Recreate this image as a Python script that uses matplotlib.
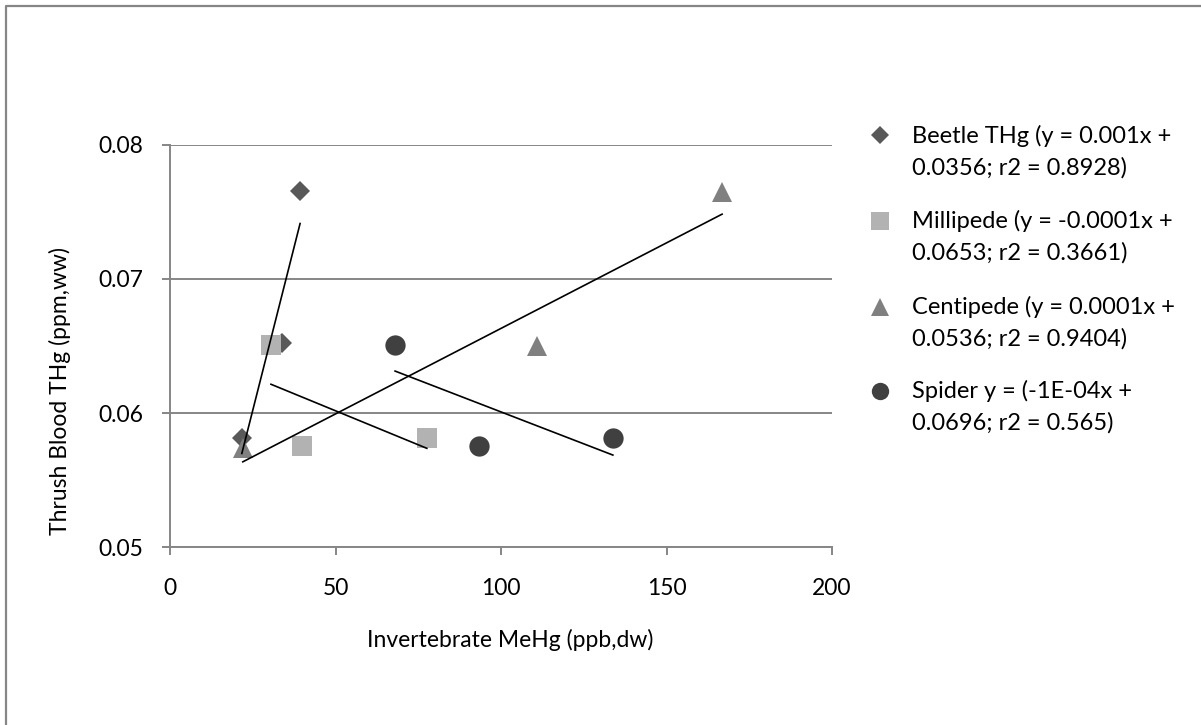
import matplotlib
matplotlib.use("Agg")
import matplotlib.pyplot as plt
from matplotlib.lines import Line2D
from matplotlib.ticker import FormatStrFormatter
import numpy as np

plt.rcParams['font.family'] = ['Lato', 'DejaVu Sans']
plt.rcParams['font.size'] = 16.5

# values
beetle_x = [21.7, 33.8, 39.3]
beetle_y = [0.0581, 0.0652, 0.0766]
millipede_x = [30.5, 39.9, 77.6]
millipede_y = [0.0651, 0.0575, 0.0581]
centipede_x = [22.0, 110.9, 166.8]
centipede_y = [0.0574, 0.0650, 0.0765]
spider_x = [68.0, 93.4, 133.8]
spider_y = [0.0651, 0.0575, 0.0581]

labels = [("Beetle THg (y = 0.001x +", "0.0356; r2 = 0.8928)"),
          ("Millipede (y = -0.0001x +", "0.0653; r2 = 0.3661)"),
          ("Centipede (y = 0.0001x +", "0.0536; r2 = 0.9404)"),
          ("Spider y = (-1E-04x +", "0.0696; r2 = 0.565)")]

series = [(beetle_x, beetle_y, 'D', 10.2, '#595959'),
          (millipede_x, millipede_y, 's', 14.4, '#b2b2b2'),
          (centipede_x, centipede_y, '^', 14.4, '#808080'),
          (spider_x, spider_y, 'o', 14.6, '#404040')]

W, H = 1201, 725
fig = plt.figure(figsize=(W / 100, H / 100), dpi=100)
ax = fig.add_axes([170 / W, 1 - 547 / H, (832 - 170) / W, (547 - 145) / H])

def fx(px):
    return px / W

def fy(py):
    return 1 - py / H

grid_col = '#868686'
for xs, ys, mk, ms, col in series:
    ax.plot(xs, ys, linestyle='none', marker=mk, markersize=ms,
            markeredgewidth=0, color=col, zorder=3)

# linear trendlines over each series' x range
for xs, ys, mk, ms, col in series:
    k, b = np.polyfit(xs, ys, 1)
    xx = np.array([min(xs), max(xs)])
    ax.plot(xx, k * xx + b, color='black', linewidth=1.2, zorder=4)

ax.set_xlim(0, 200)
ax.set_ylim(0.05, 0.08)
ax.set_xticks([0, 50, 100, 150, 200])
ax.set_yticks([0.05, 0.06, 0.07, 0.08])
ax.yaxis.set_major_formatter(FormatStrFormatter('%.2f'))
ax.grid(axis='y', color=grid_col, linewidth=1.4)
ax.set_axisbelow(True)
for s in ['top', 'right']:
    ax.spines[s].set_visible(False)
for s in ['left', 'bottom']:
    ax.spines[s].set_color(grid_col)
    ax.spines[s].set_linewidth(1.4)
ax.tick_params(colors=grid_col, labelcolor='black', length=6, width=1.4)
ax.tick_params(axis='y', pad=13)
ax.tick_params(axis='x', pad=16)

ax.set_xlabel('Invertebrate MeHg (ppb,dw)')
ax.set_ylabel('Thrush Blood THg (ppm,ww)')
ax.xaxis.set_label_coords((510 - 170) / 662, (547 - 640) / 402)
ax.xaxis.label.set_va('center')
ax.yaxis.set_label_coords((60 - 170) / 662, (547 - 391) / 402)
ax.yaxis.label.set_va('center')

# legend, drawn entry by entry so each marker sits on the first text line
line1_base = [143, 228, 314, 398]
marker_y = [135, 221, 307, 391]
leg_ms = [9.5, 13, 12.5, 12.5]
for (l1, l2), (xs, ys, mk, ms, col), yb, ym, lms in zip(labels, series, line1_base, marker_y, leg_ms):
    fig.text(fx(912), fy(yb), l1, va='baseline', ha='left', fontsize=17)
    fig.text(fx(912), fy(yb + 32), l2, va='baseline', ha='left', fontsize=17)
    fig.add_artist(Line2D([fx(880)], [fy(ym)], marker=mk, markersize=lms,
                          markeredgewidth=0, color=col, linestyle='none'))

# chart-area border (only top and left edges are inside the picture)
fig.add_artist(Line2D([fx(6), fx(6), 1], [0, fy(6), fy(6)], color=grid_col, linewidth=1.6))

fig.savefig('out.png', dpi=100)
